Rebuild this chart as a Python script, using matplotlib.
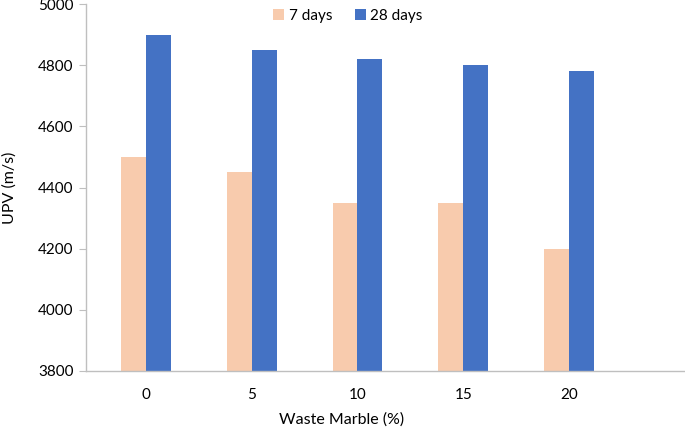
import numpy as np
import matplotlib.pyplot as plt

# Data
categories = ["0", "5", "10", "15", "20"]
days_7 = [4500, 4450, 4350, 4350, 4200]
days_28 = [4900, 4850, 4820, 4800, 4780]

plt.rcParams['font.family'] = ['Lato', 'DejaVu Sans']

W, H = 685, 429
fig = plt.figure(figsize=(W / 100, H / 100), dpi=100)
# axes box in pixels: left 86, right 685, top 4, bottom 371
ax = fig.add_axes([86 / W, (H - 371) / H, (685 - 86) / W, (371 - 4) / H])

x = np.arange(len(categories))
bw = 0.236
ax.bar(x - bw / 2, days_7, bw, color='#F8CBAD', label='7 days', zorder=2)
ax.bar(x + bw / 2, days_28, bw, color='#4472C4', label='28 days', zorder=2)

ax.set_ylim(3800, 5000)
ax.set_yticks(range(3800, 5001, 200))
ax.set_xlim(-0.567, 5.097)
ax.set_xticks(x)
ax.set_xticklabels(categories)

for s in ['top', 'right']:
    ax.spines[s].set_visible(False)
for s in ['left', 'bottom']:
    ax.spines[s].set_color('#BFBFBF')
    ax.spines[s].set_linewidth(1.0)
ax.tick_params(axis='y', length=5, color='#BFBFBF', labelsize=11, pad=4)
ax.tick_params(axis='x', length=0, labelsize=11, pad=12)

fig.text(342 / W, 1 - 420 / H, 'Waste Marble (%)', ha='center', va='center', fontsize=11.5)
fig.text(10 / W, 1 - 188 / H, 'UPV (m/s)', ha='center', va='center', rotation=90, fontsize=11.5)

fig.legend(loc='center', bbox_to_anchor=(348 / W, 1 - 16 / H), ncol=2, frameon=False,
           fontsize=11, handlelength=0.7, handleheight=0.7, handletextpad=0.3, columnspacing=1.5)

plt.savefig('out.png', dpi=100)
